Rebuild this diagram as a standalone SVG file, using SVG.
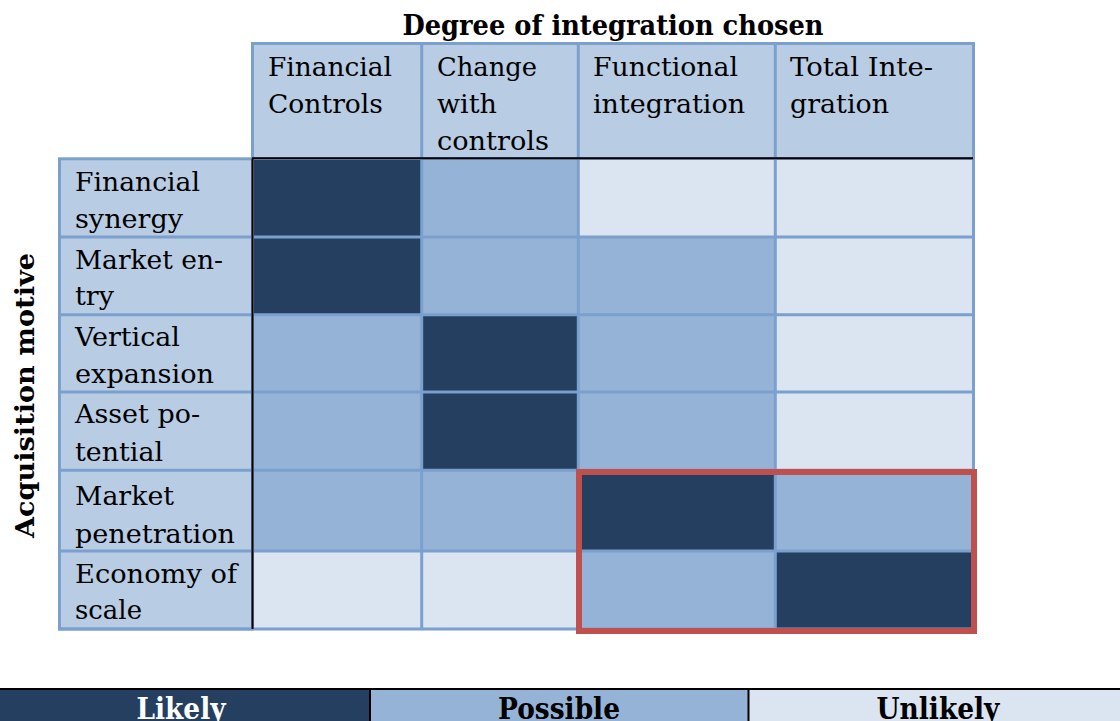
<svg xmlns="http://www.w3.org/2000/svg" width="1120" height="721" viewBox="0 0 1120 721">
<style>
.t{font-family:"DejaVu Serif","Liberation Serif",serif;font-size:26px;fill:#000}
.b{font-family:"DejaVu Serif","Liberation Serif",serif;font-weight:bold;fill:#000}
.hd{fill:#B8CCE4}
.dk{fill:#243F60}
.md{fill:#95B3D7}
.lt{fill:#DBE5F1}
.gl{stroke:#7BA0CD;stroke-width:3;fill:none}
.bk{stroke:#000;stroke-width:2;fill:none}
</style>
<rect width="1120" height="721" fill="#fff"/>
<g id="title">
<text class="b" x="613" y="35" font-size="27" text-anchor="middle" textLength="421" lengthAdjust="spacingAndGlyphs">Degree of integration chosen</text>
</g>
<g id="axis-label">
<text class="b" font-size="26" text-anchor="middle" transform="translate(34,395.5) rotate(-90)" textLength="285" lengthAdjust="spacingAndGlyphs">Acquisition motive</text>
</g>
<g id="header">
<rect class="hd" x="252.5" y="43.5" width="721" height="115"/>
<text class="t" x="268" y="76" textLength="124" lengthAdjust="spacingAndGlyphs">Financial</text>
<text class="t" x="268" y="113" textLength="115" lengthAdjust="spacingAndGlyphs">Controls</text>
<text class="t" x="437" y="76" textLength="100" lengthAdjust="spacingAndGlyphs">Change</text>
<text class="t" x="437" y="113" textLength="60" lengthAdjust="spacingAndGlyphs">with</text>
<text class="t" x="437" y="150" textLength="112" lengthAdjust="spacingAndGlyphs">controls</text>
<text class="t" x="593" y="76" textLength="145" lengthAdjust="spacingAndGlyphs">Functional</text>
<text class="t" x="593" y="113" textLength="152" lengthAdjust="spacingAndGlyphs">integration</text>
<text class="t" x="790" y="76" textLength="143" lengthAdjust="spacingAndGlyphs">Total Inte-</text>
<text class="t" x="790" y="113" textLength="99" lengthAdjust="spacingAndGlyphs">gration</text>
</g>
<g id="row-labels">
<rect class="hd" x="59.5" y="158.5" width="193" height="470.5"/>
<text class="t" x="75" y="191" textLength="125" lengthAdjust="spacingAndGlyphs">Financial</text>
<text class="t" x="75" y="228" textLength="108" lengthAdjust="spacingAndGlyphs">synergy</text>
<text class="t" x="75" y="269" textLength="148" lengthAdjust="spacingAndGlyphs">Market en-</text>
<text class="t" x="75" y="305" textLength="39" lengthAdjust="spacingAndGlyphs">try</text>
<text class="t" x="75" y="346" textLength="105" lengthAdjust="spacingAndGlyphs">Vertical</text>
<text class="t" x="75" y="383" textLength="139" lengthAdjust="spacingAndGlyphs">expansion</text>
<text class="t" x="75" y="423" textLength="125" lengthAdjust="spacingAndGlyphs">Asset po-</text>
<text class="t" x="75" y="461" textLength="88" lengthAdjust="spacingAndGlyphs">tential</text>
<text class="t" x="75" y="505" textLength="99" lengthAdjust="spacingAndGlyphs">Market</text>
<text class="t" x="75" y="543" textLength="160" lengthAdjust="spacingAndGlyphs">penetration</text>
<text class="t" x="75" y="583" textLength="162" lengthAdjust="spacingAndGlyphs">Economy of</text>
<text class="t" x="75" y="619" textLength="67" lengthAdjust="spacingAndGlyphs">scale</text>
</g>
<g id="cells">
<g id="row-financial-synergy">
<rect class="dk" x="252.5" y="158.3" width="169.2" height="78.7"/>
<rect class="md" x="421.7" y="158.3" width="156.6" height="78.7"/>
<rect class="lt" x="578.3" y="158.3" width="197" height="78.7"/>
<rect class="lt" x="775.3" y="158.3" width="198.2" height="78.7"/>
</g>
<g id="row-market-entry">
<rect class="dk" x="252.5" y="237" width="169.2" height="77.7"/>
<rect class="md" x="421.7" y="237" width="156.6" height="77.7"/>
<rect class="md" x="578.3" y="237" width="197" height="77.7"/>
<rect class="lt" x="775.3" y="237" width="198.2" height="77.7"/>
</g>
<g id="row-vertical-expansion">
<rect class="md" x="252.5" y="314.7" width="169.2" height="77.3"/>
<rect class="dk" x="421.7" y="314.7" width="156.6" height="77.3"/>
<rect class="md" x="578.3" y="314.7" width="197" height="77.3"/>
<rect class="lt" x="775.3" y="314.7" width="198.2" height="77.3"/>
</g>
<g id="row-asset-potential">
<rect class="md" x="252.5" y="392" width="169.2" height="78.3"/>
<rect class="dk" x="421.7" y="392" width="156.6" height="78.3"/>
<rect class="md" x="578.3" y="392" width="197" height="78.3"/>
<rect class="lt" x="775.3" y="392" width="198.2" height="78.3"/>
</g>
<g id="row-market-penetration">
<rect class="md" x="252.5" y="470.3" width="169.2" height="80.7"/>
<rect class="md" x="421.7" y="470.3" width="156.6" height="80.7"/>
<rect class="dk" x="578.3" y="470.3" width="197" height="80.7"/>
<rect class="md" x="775.3" y="470.3" width="198.2" height="80.7"/>
</g>
<g id="row-economy-of-scale">
<rect class="lt" x="252.5" y="551" width="169.2" height="78"/>
<rect class="lt" x="421.7" y="551" width="156.6" height="78"/>
<rect class="md" x="578.3" y="551" width="197" height="78"/>
<rect class="dk" x="775.3" y="551" width="198.2" height="78"/>
</g>
</g>
<g id="grid">
<rect class="gl" x="252.5" y="43.5" width="721" height="115"/>
<path class="gl" d="M421.7 43.5V629M578.3 43.5V629M775.3 43.5V629M973.5 43.5V630.5"/>
<rect class="gl" x="59.5" y="158.8" width="193" height="470.2"/>
<path class="gl" d="M58 237H975M58 314.7H975M58 392H975M58 470.3H975M58 551H975M58 629H975"/>
<path class="bk" d="M252.5 158.3V629M252 158.3H973"/>
</g>
<g id="highlight">
<rect x="579" y="472" width="395" height="159" fill="none" stroke="#C0504D" stroke-width="6"/>
</g>
<g id="legend">
<rect class="dk" x="0" y="690" width="370" height="31"/>
<rect class="md" x="370" y="690" width="379" height="31"/>
<rect class="lt" x="749" y="690" width="371" height="31"/>
<path d="M0 689H1120M370 690V721M748.5 690V721" stroke="#000" stroke-width="2" fill="none"/>
<text class="b" x="181" y="719" font-size="29" text-anchor="middle" fill="#fff" style="fill:#fff" textLength="89" lengthAdjust="spacingAndGlyphs">Likely</text>
<text class="b" x="559" y="719" font-size="29" text-anchor="middle" textLength="122" lengthAdjust="spacingAndGlyphs">Possible</text>
<text class="b" x="938" y="719" font-size="29" text-anchor="middle" textLength="123" lengthAdjust="spacingAndGlyphs">Unlikely</text>
</g>
</svg>
